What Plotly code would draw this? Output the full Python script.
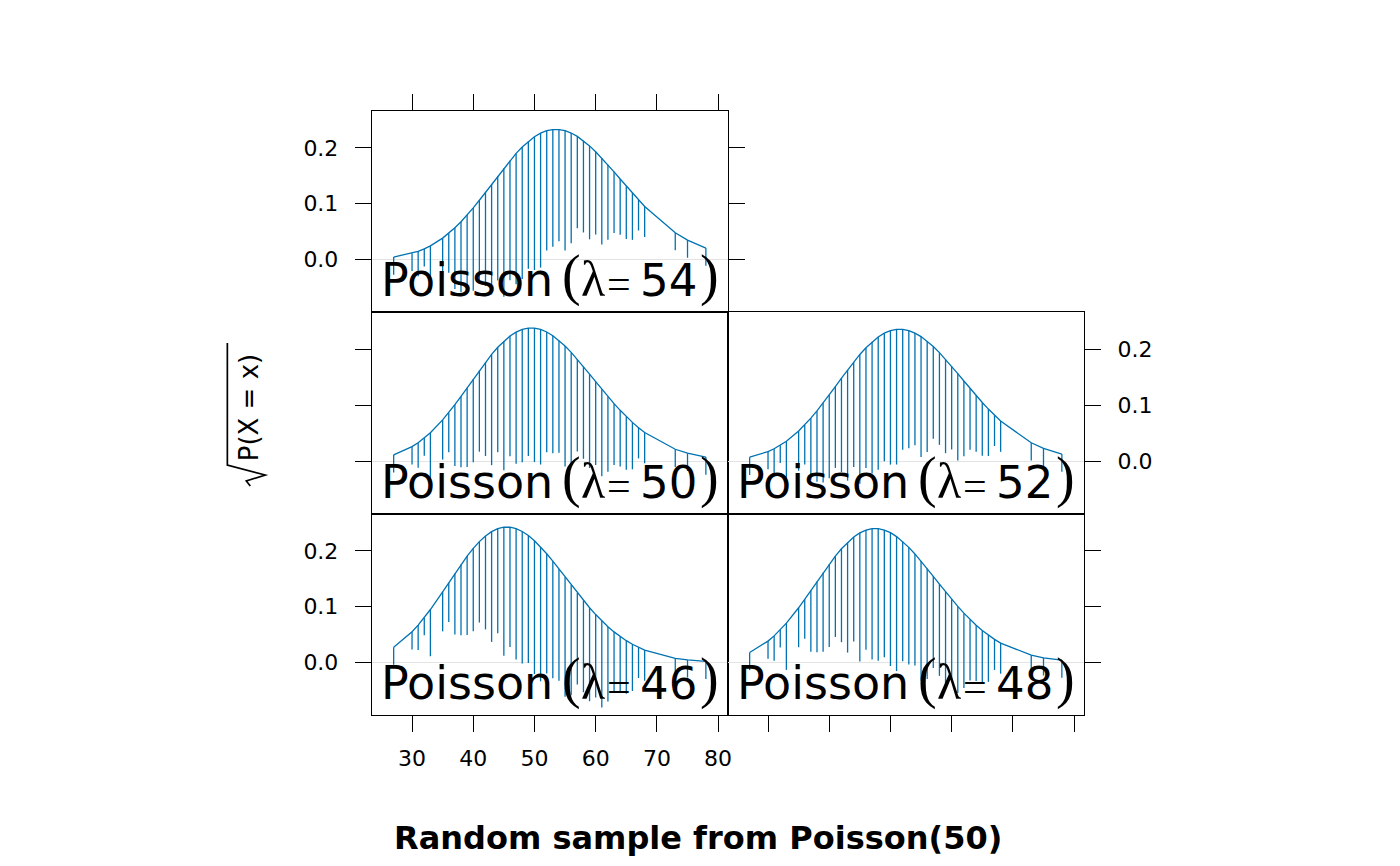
import math
import plotly.graph_objects as go

# ---------------- data ----------------
# observed values of a random sample (n = 1000) from Poisson(50)
x_values = [27, 30, 31, 32, 33, 35, 36, 37, 38, 39, 40, 41, 42, 43, 44, 45, 46, 47, 48, 49,
            50, 51, 52, 53, 54, 55, 56, 57, 58, 59, 60, 61, 62, 63, 64, 65, 66, 67, 68, 73, 75, 78]
observed_counts = [1, 1, 2, 1, 7, 5, 5, 12, 16, 20, 22, 21, 28, 39, 35, 53, 46, 55, 56, 52,
                   57, 58, 46, 44, 40, 46, 39, 27, 27, 28, 22, 24, 18, 12, 10, 9, 7, 3, 3, 1, 1, 1]
sample_size = 1000
lambdas = [46, 48, 50, 52, 54]
x_ticks = [30, 40, 50, 60, 70, 80]
y_ticks = [0.0, 0.1, 0.2]
y_tick_labels = ["0.0", "0.1", "0.2"]
x_title = "Random sample from Poisson(50)"

# ---------------- style / layout ----------------
W, H = 1400, 866
BLUE = "#0072B2"
FONT = "DejaVu Sans"
SERIF = "Liberation Serif"
X_RANGE = [23.45, 81.6]
Y_RANGE = [-0.094, 0.266]

col_px = [(373, 730), (730, 1087)]
row_px = [(514, 715), (312, 514), (111, 312)]  # bottom, middle, top (pixel top, bottom)


def px_x(p):
    return p / W


def px_y(p):
    return 1 - p / H


def dpois(k, lam):
    return math.exp(k * math.log(lam) - lam - math.lgamma(k + 1))


fig = go.Figure()
annotations = []

for i, lam in enumerate(lambdas):
    n = i + 1
    col, row = i % 2, i // 2
    xa = "x" if n == 1 else f"x{n}"
    ya = "y" if n == 1 else f"y{n}"
    fitted = [math.sqrt(dpois(k, lam)) for k in x_values]
    hang = [f - math.sqrt(c / sample_size) for f, c in zip(fitted, observed_counts)]
    bx, by = [], []
    for k, f, h in zip(x_values, fitted, hang):
        bx += [k, k, None]
        by += [f, h, None]
    fig.add_trace(go.Scatter(x=bx, y=by, mode="lines", line=dict(color=BLUE, width=1.3),
                             xaxis=xa, yaxis=ya, hoverinfo="skip", showlegend=False))
    fig.add_trace(go.Scatter(x=x_values, y=fitted, mode="lines", line=dict(color=BLUE, width=1.3),
                             xaxis=xa, yaxis=ya, hoverinfo="skip", showlegend=False))

    c0, c1 = col_px[col]
    r0, r1 = row_px[row]
    xdom = [px_x(c0), px_x(c1)]
    ydom = [px_y(r1), px_y(r0)]

    # x axis
    xaxis = dict(domain=xdom, range=X_RANGE, anchor=ya, showline=True, linecolor="black",
                 linewidth=1.3, mirror=True, showgrid=False, zeroline=False,
                 tickvals=x_ticks, ticklen=16, tickwidth=1.3, tickcolor="black",
                 tickfont=dict(family=FONT, size=22, color="black"), ticklabelstandoff=7)
    if row == 0:
        xaxis.update(side="bottom", ticks="outside", showticklabels=(col == 0))
    elif row == 2:
        xaxis.update(side="top", ticks="outside", showticklabels=False)
    else:
        xaxis.update(ticks="", showticklabels=False)

    # y axis
    yaxis = dict(domain=ydom, range=Y_RANGE, anchor=xa, showline=True, linecolor="black",
                 linewidth=1.3, mirror=True, showgrid=False, zeroline=True,
                 zerolinecolor="#e3e3e3", zerolinewidth=1.3,
                 tickvals=y_ticks, ticktext=y_tick_labels, ticks="outside", ticklen=16,
                 tickwidth=1.3, tickcolor="black",
                 tickfont=dict(family=FONT, size=22, color="black"), ticklabelstandoff=12)
    if col == 0:
        yaxis.update(side="left", showticklabels=(row != 1))
        if row == 2:
            yaxis.update(mirror="ticks")
    else:
        yaxis.update(side="right", showticklabels=(row == 1))

    fig.layout[("xaxis" if n == 1 else f"xaxis{n}")] = xaxis
    fig.layout[("yaxis" if n == 1 else f"yaxis{n}")] = yaxis

    # panel label drawn in adjacent pieces: sans text, serif parentheses / lambda / equals
    pieces = [("Poisson", FONT, 46, 8),
              ("(", SERIF, 56, 189),
              ("λ", SERIF, 50, 208),
              ("=", SERIF, 42, 234),
              (f"{lam}", FONT, 45, 267),
              (")", SERIF, 56, 327)]
    for txt, fam, size, dx in pieces:
        annotations.append(dict(text=txt, xref=f"{xa} domain", yref=f"{ya} domain", x=0, y=0,
                                xanchor="left", yanchor="bottom", xshift=dx, yshift=4,
                                borderpad=0, showarrow=False,
                                font=dict(family=fam, size=size, color="black")))

# y-axis title  sqrt(P(X = x))
annotations.append(dict(text="P(X = x)", xref="paper", yref="paper", x=px_x(250), y=px_y(408),
                        xanchor="center", yanchor="middle", textangle=-90, showarrow=False,
                        font=dict(family=FONT, size=26, color="black")))
# x-axis title
annotations.append(dict(text=f"<b>{x_title}</b>", xref="paper", yref="paper", x=0.5, y=px_y(838),
                        xanchor="center", yanchor="middle", showarrow=False,
                        font=dict(family=FONT, size=32, color="black")))

rad = [(251, 486), (247, 481), (266, 475), (228, 465), (228, 343)]
path = "M " + " L ".join(f"{px_x(a):.5f},{px_y(b):.5f}" for a, b in rad)
shapes = [dict(type="path", xref="paper", yref="paper", path=path,
               line=dict(color="black", width=1.7))]

fig.update_layout(width=W, height=H, margin=dict(l=0, r=0, t=0, b=0),
                  paper_bgcolor="white", plot_bgcolor="white",
                  annotations=annotations, shapes=shapes, showlegend=False)

fig.write_html("out.html", config={"displayModeBar": False},
               post_script="document.body.style.margin='0';")
